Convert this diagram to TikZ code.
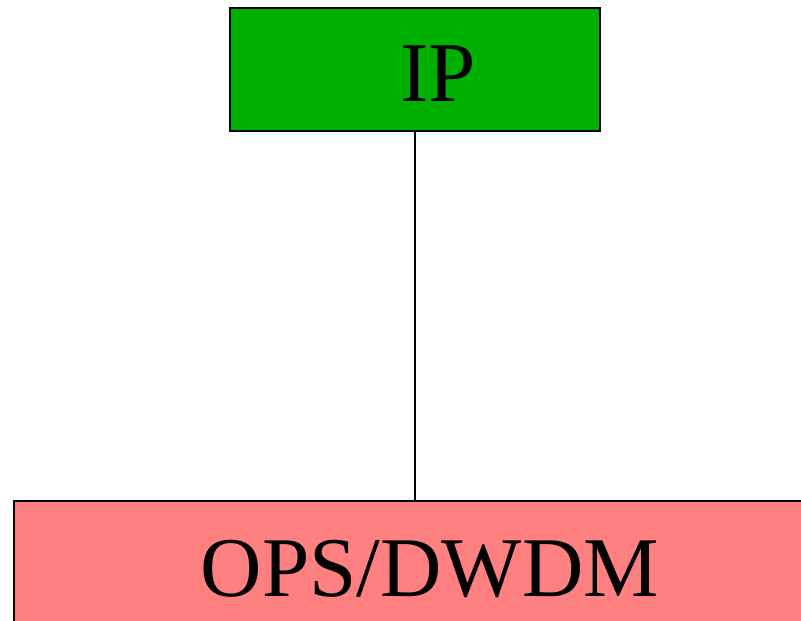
\documentclass[tikz,border=0pt]{standalone}
\usepackage{fontspec}
\setmainfont{Liberation Serif}
\usetikzlibrary{positioning}
\definecolor{ipgreen}{RGB}{0,176,0}
\definecolor{opsred}{RGB}{255,128,128}
\tikzset{layerbox/.style={draw=black, line width=2pt, rectangle, inner sep=0pt}}

\begin{document}
\begin{tikzpicture} [x=1pt, y=-1pt]
 \useasboundingbox (0,0) rectangle (801,621);
 \clip (0,0) rectangle (801,621);
 \node [layerbox, fill=ipgreen, minimum width=370pt, minimum height=123pt] (ip) at (415,69.5) {};
 \node [layerbox, fill=opsred, minimum width=802pt, minimum height=240pt] (ops) at (415,621) {};
 \draw [line width=2pt] (ip.south) -- (ops.north);
 \node [anchor=base, inner sep=0pt, font=\fontsize{85}{100}\selectfont] (iptext) at (438,101) {IP};
 \node [anchor=base, inner sep=0pt, font=\fontsize{85}{100}\selectfont] (opstext) at (430,596) {OPS/DWDM};
\end{tikzpicture}
\end{document}
